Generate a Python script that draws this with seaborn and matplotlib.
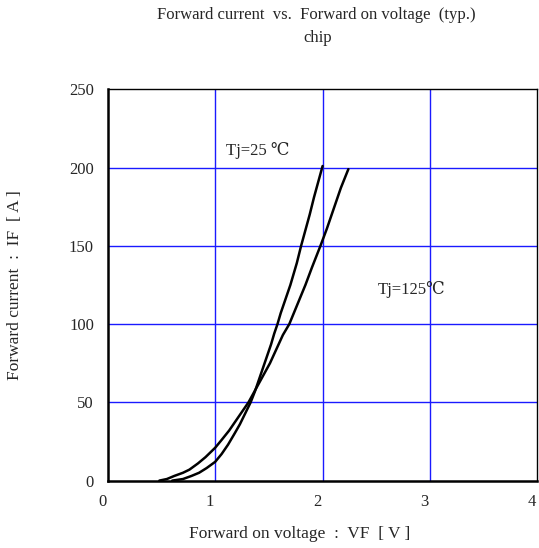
import numpy as np
import pandas as pd
import seaborn as sns
import matplotlib.pyplot as plt
from matplotlib.ticker import MultipleLocator
from matplotlib.transforms import ScaledTranslation

# --- DATA ---
vf_25 = [0.60, 0.70, 0.78, 0.85, 0.92, 1.00, 1.06, 1.12, 1.18, 1.23, 1.28, 1.33,
         1.37, 1.40, 1.43, 1.46, 1.49, 1.52, 1.55, 1.58, 1.61, 1.64, 1.67, 1.70,
         1.73, 1.76, 1.80, 1.84, 1.88, 1.92, 1.96, 2.00]
if_25 = [0, 1, 3, 5, 8, 12, 17, 23, 30, 36, 43, 50,
         57, 63, 69, 75, 81, 87, 94, 100, 107, 113, 119, 125,
         132, 139, 150, 160, 170, 181, 191, 201]

vf_125 = [0.48, 0.55, 0.62, 0.70, 0.76, 0.84, 0.91, 1.00, 1.06, 1.13, 1.19, 1.25,
          1.31, 1.35, 1.39, 1.43, 1.47, 1.51, 1.55, 1.59, 1.63, 1.69, 1.72, 1.78,
          1.84, 1.90, 1.98, 2.04, 2.11, 2.17, 2.24]
if_125 = [0, 1, 3, 5, 7, 11, 15, 21, 26, 32, 38, 44,
          50, 55, 60, 65, 70, 75, 81, 87, 93, 100, 105, 115,
          125, 136, 150, 161, 175, 187, 199]

x_ticks = [0, 1, 2, 3, 4]
y_ticks = [0, 50, 100, 150, 200, 250]

df25 = pd.DataFrame({"vf": vf_25, "if": if_25})
df125 = pd.DataFrame({"vf": vf_125, "if": if_125})

sns.set_style("white")
plt.rcParams['font.family'] = ['Liberation Serif', 'DejaVu Serif']

fig = plt.figure(figsize=(5.39, 5.48), dpi=100)
ax = fig.add_axes([0.2, 0.123, 0.797, 0.714])

# grid first so curves sit on top
for x in x_ticks[1:-1]:
    ax.axvline(x, color='#1a1aff', lw=1.0, zorder=1)
for y in y_ticks[1:-1]:
    ax.axhline(y, color='#1a1aff', lw=1.0, zorder=1)

sns.lineplot(data=df25, x="vf", y="if", ax=ax, color='black', lw=1.8,
             estimator=None, zorder=3)
sns.lineplot(data=df125, x="vf", y="if", ax=ax, color='black', lw=1.8,
             estimator=None, zorder=3)

ax.set_xlim(0, 4)
ax.set_ylim(0, 250)
ax.set_xticks(x_ticks)
ax.set_yticks(y_ticks)
ax.xaxis.set_minor_locator(MultipleLocator(0.5))
ax.yaxis.set_minor_locator(MultipleLocator(25))
ax.tick_params(which='both', direction='in', color='black', labelsize=12, pad=10)
ax.tick_params(which='both', length=4, width=1)
ax.set_xlabel("")
ax.set_ylabel("")

# labels in the original sit a little left of their ticks
shift = ScaledTranslation(-4 / 72, 0, fig.dpi_scale_trans)
for lab in ax.get_xticklabels():
    lab.set_transform(lab.get_transform() + shift)

for side in ['left', 'bottom']:
    ax.spines[side].set_linewidth(1.8)
for side in ['top', 'right']:
    ax.spines[side].set_linewidth(1.0)
for s in ax.spines.values():
    s.set_color('black')

ax.text(1.10, 211, "Tj=25 \u2103", fontsize=12, va='center', ha='left')
ax.text(2.51, 122, "Tj=125\u2103", fontsize=12, va='center', ha='left')

fig.text(0.586, 0.973, "Forward current  vs.  Forward on voltage  (typ.)",
         ha='center', va='center', fontsize=12)
fig.text(0.59, 0.931, "chip", ha='center', va='center', fontsize=12)
fig.text(0.555, 0.026, "Forward on voltage  :  VF  [ V ]",
         ha='center', va='center', fontsize=12.5)
fig.text(0.028, 0.48, "Forward current  :  IF  [ A ]", rotation=90,
         ha='center', va='center', fontsize=12.5)

fig.savefig("out.png", dpi=100)
